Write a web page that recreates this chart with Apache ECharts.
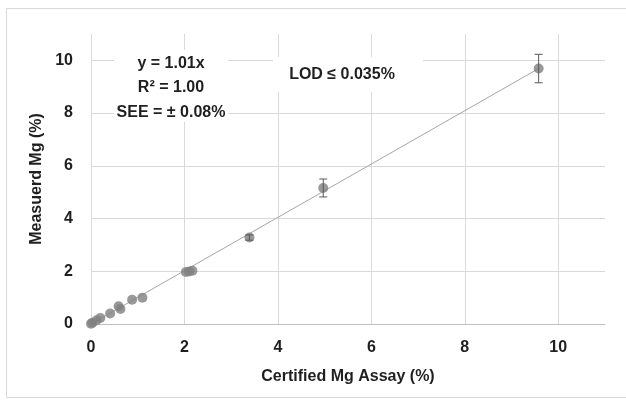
<!DOCTYPE html>
<html>
<head>
<meta charset="utf-8">
<script src="https://cdn.jsdelivr.net/npm/echarts@6/dist/echarts.min.js"></script>
<style>
  html, body { margin: 0; padding: 0; background: #ffffff; }
  #chart { width: 626px; height: 403px; }
</style>
</head>
<body>
<div id="chart"></div>
<script>
// certified vs measured Mg (%)
var certifiedMg = [0.0, 0.03, 0.12, 0.2, 0.41, 0.59, 0.63, 0.88, 1.1, 2.03, 2.1, 2.17, 3.39, 4.97, 9.58];
var measuredMg = [0.01, 0.05, 0.14, 0.23, 0.4, 0.67, 0.57, 0.92, 1.0, 1.97, 1.99, 2.02, 3.28, 5.16, 9.69];

// error bars (x, centre, +/- half width)
var errX = [3.39, 4.97, 9.58];
var errY = [3.28, 5.16, 9.69];
var errSize = [0.1, 0.34, 0.54];

// linear fit end points
var trendX = [0, 9.58];
var trendY = [0, 9.69];

var textColor = '#1f1f1f';
var fontFamily = '"Liberation Sans", Arial, sans-serif';

var chart = echarts.init(document.getElementById('chart'), null, { renderer: 'canvas' });

var points = certifiedMg.map(function (x, i) { return [x, measuredMg[i]]; });
var trend = trendX.map(function (x, i) { return [x, trendY[i]]; });
var errData = errX.map(function (x, i) { return [x, errY[i] - errSize[i], errY[i] + errSize[i]]; });

chart.setOption({
  animation: false,
  backgroundColor: '#ffffff',
  textStyle: { fontFamily: fontFamily },
  grid: { left: 91, right: 21, top: 34, bottom: 79 },
  xAxis: {
    type: 'value',
    min: 0,
    max: 11,
    interval: 2,
    name: 'Certified Mg Assay (%)',
    nameLocation: 'middle',
    nameGap: 45,
    nameTextStyle: { color: textColor, fontSize: 16, fontWeight: 'bold', fontFamily: fontFamily },
    axisLine: { show: true, lineStyle: { color: '#bfbfbf', width: 1 } },
    axisTick: { show: false },
    axisLabel: { color: textColor, fontSize: 16, fontWeight: 'bold', margin: 16, showMaxLabel: false },
    splitLine: { show: true, showMaxLine: false, lineStyle: { color: '#d9d9d9', width: 1 } }
  },
  yAxis: {
    type: 'value',
    min: 0,
    max: 11,
    interval: 2,
    name: 'Measuerd Mg (%)',
    nameLocation: 'middle',
    nameGap: 45,
    nameRotate: 90,
    nameTextStyle: { color: textColor, fontSize: 16, fontWeight: 'bold', fontFamily: fontFamily },
    axisLine: { show: false },
    axisTick: { show: false },
    axisLabel: { color: textColor, fontSize: 16, fontWeight: 'bold', margin: 18, showMaxLabel: false },
    splitLine: { show: true, showMaxLine: false, lineStyle: { color: '#d9d9d9', width: 1 } }
  },
  graphic: [
    {
      type: 'rect',
      z: -1,
      silent: true,
      shape: { x: 6.5, y: 8.5, width: 640, height: 389 },
      style: { fill: 'none', stroke: '#d9d9d9', lineWidth: 1 }
    },
    {
      type: 'rect',
      z: 1,
      silent: true,
      shape: { x: 114, y: 50, width: 114, height: 72 },
      style: { fill: '#ffffff' }
    },
    {
      type: 'rect',
      z: 1,
      silent: true,
      shape: { x: 273, y: 57, width: 150, height: 35 },
      style: { fill: '#ffffff' }
    },
    {
      type: 'text',
      z: 2,
      x: 171,
      y: 88,
      style: {
        text: 'y = 1.01x\nR² = 1.00\nSEE = ± 0.08%',
        align: 'center',
        verticalAlign: 'middle',
        lineHeight: 24.5,
        fill: textColor,
        font: 'bold 16px ' + fontFamily
      }
    },
    {
      type: 'text',
      z: 2,
      x: 342,
      y: 75,
      style: {
        text: 'LOD ≤ 0.035%',
        align: 'center',
        verticalAlign: 'middle',
        fill: textColor,
        font: 'bold 16px ' + fontFamily
      }
    }
  ],
  series: [
    {
      type: 'line',
      data: trend,
      symbol: 'none',
      z: 2,
      lineStyle: { color: '#a6a6a6', width: 1 }
    },
    {
      type: 'scatter',
      data: points,
      symbol: 'circle',
      symbolSize: 10,
      z: 3,
      itemStyle: { color: '#7f7f7f' }
    },
    {
      type: 'custom',
      data: errData,
      z: 4,
      renderItem: function (params, api) {
        var lo = api.coord([api.value(0), api.value(1)]);
        var hi = api.coord([api.value(0), api.value(2)]);
        var cap = 4;
        var style = { stroke: '#595959', lineWidth: 1 };
        return {
          type: 'group',
          children: [
            { type: 'line', shape: { x1: lo[0], y1: lo[1], x2: hi[0], y2: hi[1] }, style: style },
            { type: 'line', shape: { x1: lo[0] - cap, y1: lo[1], x2: lo[0] + cap, y2: lo[1] }, style: style },
            { type: 'line', shape: { x1: hi[0] - cap, y1: hi[1], x2: hi[0] + cap, y2: hi[1] }, style: style }
          ]
        };
      }
    }
  ]
});
</script>
</body>
</html>
